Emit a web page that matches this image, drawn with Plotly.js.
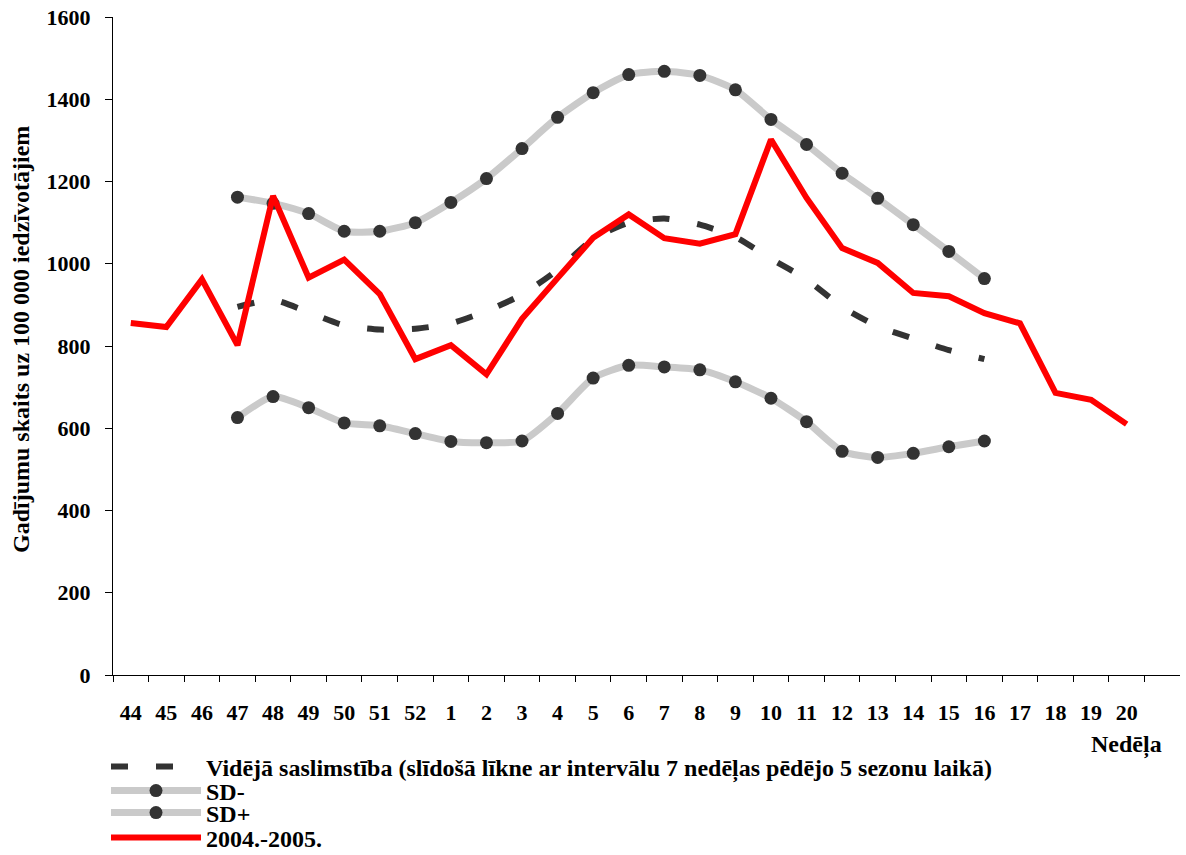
<!DOCTYPE html>
<html><head><meta charset="utf-8">
<script src="https://cdn.plot.ly/plotly-3.0.1.min.js"></script>
<style>html,body{margin:0;padding:0;background:#fff}</style>
</head><body><div id="chart" style="width:1186px;height:855px"></div>
<script>
const weeks = ['44','45','46','47','48','49','50','51','52','1','2','3','4','5','6','7','8','9','10','11','12','13','14','15','16','17','18','19','20'];
const season2004 = [856,846,962,802,1165,966,1010,926,768,802,731,866,965,1063,1120,1062,1049,1072,1302,1160,1038,1002,929,921,880,855,686,669,610];
const meanIncidence = [null,null,null,895,912,882,850,840,842,855,885,925,985,1060,1100,1110,1095,1065,1012,962,895,848,818,790,768,null,null,null,null];
const sdMinus = [null,null,null,626,677,650,613,606,587,568,565,569,636,722,753,749,742,713,673,616,544,529,539,555,569,null,null,null,null];
const sdPlus = [null,null,null,1162,1147,1122,1079,1079,1100,1149,1207,1280,1356,1416,1460,1468,1458,1423,1351,1290,1220,1159,1095,1030,964,null,null,null,null];

const seriesNames = ['Vidējā saslimstība (slīdošā līkne ar intervālu 7 nedēļas pēdējo 5 sezonu laikā)','SD-','SD+','2004.-2005.'];
const yTitle = 'Gadījumu skaits uz 100 000 iedzīvotājiem';
const xTitle = 'Nedēļa';

const FONT = 'Liberation Serif, Times New Roman, serif';
const sdLine = {color:'rgb(202,202,202)', width:7, shape:'spline', smoothing:0.6};
const sdMarker = {color:'#333333', size:13};

const traces = [
  {x:weeks, y:meanIncidence, name:seriesNames[0], mode:'lines', type:'scatter', legend:'legend',
   line:{color:'#333333', width:6, dash:'17px,28px', shape:'spline', smoothing:0.6}},
  {x:weeks, y:sdMinus, name:seriesNames[1], mode:'lines+markers', type:'scatter', legend:'legend2',
   line:sdLine, marker:sdMarker},
  {x:weeks, y:sdPlus, name:seriesNames[2], mode:'lines+markers', type:'scatter', legend:'legend3',
   line:sdLine, marker:sdMarker},
  {x:weeks, y:season2004, name:seriesNames[3], mode:'lines', type:'scatter', legend:'legend4',
   line:{color:'#ff0000', width:6}}
];

const legendFont = {family:FONT, size:24, color:'#000', weight:'bold'};
function mkLegend(yPix){
  return {xref:'container', yref:'container', x:106/1186, y:1-yPix/855, xanchor:'left', yanchor:'middle',
    font:legendFont, bgcolor:'rgba(0,0,0,0)', itemwidth:90, tracegroupgap:0};
}

const layout = {
  width:1186, height:855,
  margin:{l:113, r:6, t:17, b:180, autoexpand:false},
  paper_bgcolor:'#fff', plot_bgcolor:'#fff',
  font:{family:FONT, size:22, color:'#000', weight:'bold'},
  showlegend:true,
  legend:mkLegend(767),
  legend2:mkLegend(791),
  legend3:mkLegend(813),
  legend4:mkLegend(838),
  xaxis:{type:'category', categoryorder:'array', categoryarray:weeks, range:[-0.5,29.5], automargin:false,
    tickson:'boundaries', ticks:'outside', ticklen:6, tickcolor:'#000', tickwidth:1, tickangle:0,
    showline:true, linecolor:'#000', linewidth:1, showgrid:false, zeroline:false,
    tickfont:{family:FONT, size:22, color:'#000', weight:'bold'}, ticklabelstandoff:18},
  yaxis:{range:[0,1600], dtick:200, ticks:'outside', ticklen:7, tickcolor:'#000', automargin:false,
    showline:true, linecolor:'#000', linewidth:1, showgrid:false, zeroline:false,
    tickfont:{family:FONT, size:22, color:'#000', weight:'bold'}, ticklabelstandoff:10},
  annotations:[
    {text:xTitle, xref:'paper', yref:'paper', x:(1164-113)/1067, y:-70/658, xanchor:'right', yanchor:'middle',
     showarrow:false, font:{family:FONT, size:24, color:'#000', weight:'bold'}},
    {text:yTitle, xref:'paper', yref:'paper', x:(21-113)/1067, y:(675-340)/658, xanchor:'center', yanchor:'middle',
     textangle:-90, showarrow:false, font:{family:FONT, size:24, color:'#000', weight:'bold'}}
  ]
};

Plotly.newPlot('chart', traces, layout, {displayModeBar:false, staticPlot:true});
</script></body></html>
